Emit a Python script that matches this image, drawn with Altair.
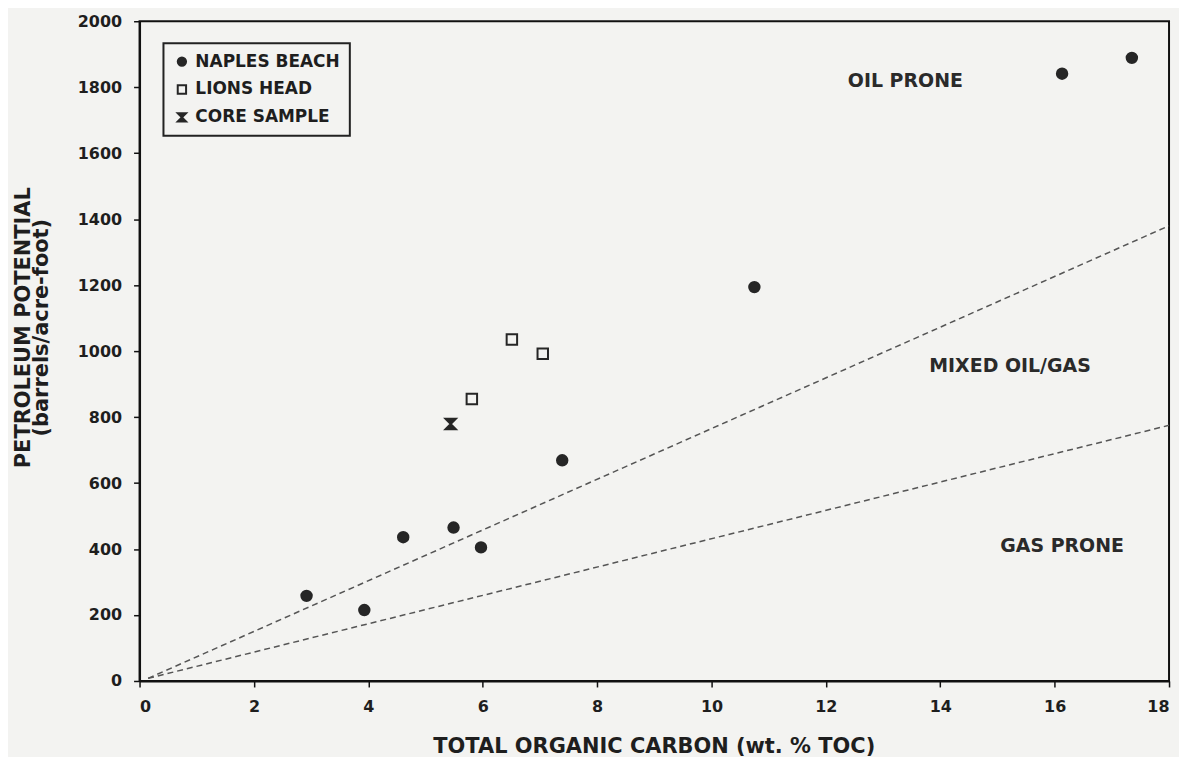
import altair as alt
import pandas as pd

# ---- data ----
naples_x = [2.92, 3.93, 4.61, 5.49, 5.97, 7.39, 10.75, 16.13, 17.35]
naples_y = [258, 215, 436, 465, 405, 669, 1194, 1841, 1889]
lions_x = [5.81, 6.51, 7.05]
lions_y = [855, 1035, 992]
core_x = [5.44]
core_y = [779]
series_names = ["NAPLES BEACH", "LIONS HEAD", "CORE SAMPLE"]

line_x = [0.15, 18]
upper_y = [8, 1380]
lower_y = [8, 775]

region_labels = ["OIL PRONE", "MIXED OIL/GAS", "GAS PRONE"]
region_x = [13.39, 15.22, 16.13]
region_y = [1819, 955, 409]

x_ticks = [0, 2, 4, 6, 8, 10, 12, 14, 16, 18]
y_ticks = [0, 200, 400, 600, 800, 1000, 1200, 1400, 1600, 1800, 2000]

BG = "#f3f3f1"
INK = "#262626"
FONT = "DejaVu Sans"

pts = pd.DataFrame(
    {
        "toc": naples_x + lions_x + core_x,
        "pp": naples_y + lions_y + core_y,
        "series": [series_names[0]] * len(naples_x)
        + [series_names[1]] * len(lions_x)
        + [series_names[2]] * len(core_x),
    }
)

lines = pd.DataFrame(
    {
        "toc": line_x + line_x,
        "pp": upper_y + lower_y,
        "bound": ["upper"] * 2 + ["lower"] * 2,
    }
)

regions = pd.DataFrame({"toc": region_x, "pp": region_y, "label": region_labels})

x_scale = alt.Scale(domain=[0, 18], nice=False, zero=False)
y_scale = alt.Scale(domain=[0, 2000], nice=False)

x_axis = alt.Axis(
    title="TOTAL ORGANIC CARBON (wt. % TOC)",
    values=x_ticks,
    format="d",
    grid=False,
    tickSize=6,
    labelPadding=12,
    titleX=516,
    titleY=66,
    titleAlign="center",
    titleBaseline="middle",
)
y_axis = alt.Axis(
    title=["PETROLEUM POTENTIAL", "(barrels/acre-foot)"],
    values=y_ticks,
    format="d",
    grid=False,
    tickSize=6,
    labelPadding=12,
    titleX=-116,
    titleY=307,
    titleAngle=270,
    titleAlign="center",
    titleBaseline="middle",
    titleLineHeight=18,
)

hourglass = "M-1,-1H1L-1,1H1Z"

points = (
    alt.Chart(pts)
    .mark_point(strokeWidth=2, opacity=1, fillOpacity=1, size=110)
    .encode(
        x=alt.X("toc:Q", scale=x_scale, axis=x_axis),
        y=alt.Y("pp:Q", scale=y_scale, axis=y_axis),
        shape=alt.Shape(
            "series:N",
            scale=alt.Scale(domain=series_names, range=["circle", "square", hourglass]),
            legend=alt.Legend(title=None),
        ),
        fill=alt.Fill(
            "series:N",
            scale=alt.Scale(domain=series_names, range=[INK, BG, INK]),
            legend=alt.Legend(title=None),
        ),
        stroke=alt.Stroke(
            "series:N",
            scale=alt.Scale(domain=series_names, range=[INK, INK, INK]),
            legend=alt.Legend(title=None),
        ),
    )
)

bounds = (
    alt.Chart(lines)
    .mark_line(color="#555555", strokeWidth=1.5, strokeDash=[6, 4])
    .encode(
        x=alt.X("toc:Q", scale=x_scale, axis=x_axis),
        y=alt.Y("pp:Q", scale=y_scale, axis=y_axis),
        detail="bound:N",
    )
)

labels = (
    alt.Chart(regions)
    .mark_text(font=FONT, fontWeight="bold", fontSize=19, color="#2a2a2a")
    .encode(
        x=alt.X("toc:Q", scale=x_scale),
        y=alt.Y("pp:Q", scale=y_scale),
        text="label:N",
    )
)

chart = (
    alt.layer(bounds, labels, points)
    .properties(
        width=1033,
        height=662,
        autosize=alt.AutoSizeParams(type="none"),
        padding={"left": 132, "top": 12, "right": 10, "bottom": 75},
        background=BG,
    )
    .configure_view(stroke="#111111", strokeWidth=2, fill=BG)
    .configure_axis(
        domainColor="#111111",
        domainWidth=2,
        tickColor="#111111",
        tickWidth=1.5,
        labelFont=FONT,
        labelFontWeight="bold",
        labelFontSize=16,
        labelColor="#1e1e1e",
        titleFont=FONT,
        titleFontWeight="bold",
        titleFontSize=21,
        titleColor="#1e1e1e",
    )
    .configure_legend(
        orient="none",
        legendX=24,
        legendY=22,
        padding=10,
        rowPadding=10,
        strokeColor="#222222",
        strokeWidth=2,
        fillColor=BG,
        symbolSize=70,
        symbolStrokeWidth=2,
        labelFont=FONT,
        labelFontWeight="bold",
        labelFontSize=17,
        labelColor="#1e1e1e",
        labelOffset=5,
    )
)

chart.save("out.html", embed_options={"renderer": "svg", "actions": False})
